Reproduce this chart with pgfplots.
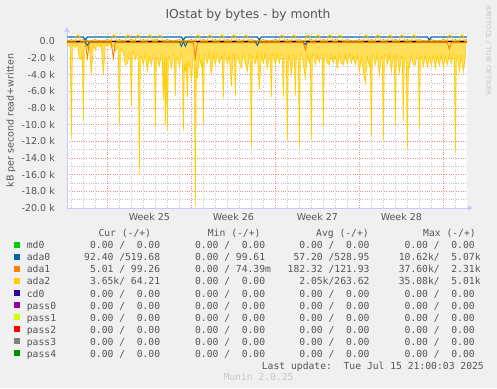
\documentclass[border=0pt]{standalone}
\usepackage{fontspec}
\setmainfont{DejaVu Sans}
\setmonofont{DejaVu Sans Mono}
\usepackage{pgfplots}
\pgfplotsset{compat=1.18}
\usetikzlibrary{arrows.meta}
\definecolor{bg}{HTML}{F0F0F0}
\definecolor{txt}{HTML}{555555}
\definecolor{axisc}{HTML}{C8C8FF}
\definecolor{mgrid}{HTML}{E69090}
\definecolor{ngrid}{HTML}{C8C8C8}
\definecolor{cmdz}{HTML}{00CC00}
\definecolor{cadaz}{HTML}{0066B3}
\definecolor{cadao}{HTML}{FF8000}
\definecolor{cadat}{HTML}{FFCC00}
\definecolor{ccdz}{HTML}{330099}
\definecolor{cpz}{HTML}{990099}
\definecolor{cpo}{HTML}{CCFF00}
\definecolor{cpt}{HTML}{FF0000}
\definecolor{cpth}{HTML}{808080}
\definecolor{cpf}{HTML}{008F00}
\newcommand\legfont{\ttfamily\fontsize{9.7}{11}\selectfont}
\newcommand\lrow[7]{%
  \fill[#2] (14,{388-#1+1.3}) rectangle ++(5.7,5.7);
  \node[anchor=base west,inner sep=0pt,font=\legfont,text=txt] at (26.7,{388-#1}) {#3};
  \node[anchor=base west,inner sep=0pt,font=\legfont,text=txt] at (78.2,{388-#1}) {#4};
  \node[anchor=base west,inner sep=0pt,font=\legfont,text=txt] at (183.2,{388-#1}) {#5};
  \node[anchor=base west,inner sep=0pt,font=\legfont,text=txt] at (287.5,{388-#1}) {#6};
  \node[anchor=base west,inner sep=0pt,font=\legfont,text=txt] at (392.8,{388-#1}) {#7};
}
\begin{document}
\begin{tikzpicture}[x=1pt,y=1pt]
\path[use as bounding box, fill=bg] (0,0) rectangle (497,388);
\begin{axis}[
  at={(67pt,180pt)}, anchor=south west,
  scale only axis, width=400pt, height=175pt,
  xmin=-80.67, xmax=719.33, ymin=-20000, ymax=1000,
  axis background/.style={fill=white},
  axis x line*=bottom, axis y line*=left,
  axis line style={color=axisc, line width=0.8pt, -{Triangle[length=5pt,width=5pt]}, shorten >=-6pt},
  major tick length=0pt, minor tick length=0pt,
  tick style={draw=none},
  xtick={0,168,336,504,672}, xticklabels={,,,,},
  minor xtick={-72,-48,-24,24,48,72,96,120,144,192,216,240,264,288,312,360,384,408,432,456,480,528,552,576,600,624,648,696},
  extra x ticks={84,252,420,588},
  extra x tick labels={Week 25,Week 26,Week 27,Week 28},
  extra x tick style={grid=none, xticklabel style={anchor=north, inner sep=0pt, yshift=-5pt}},
  ytick={-20000,-18000,-16000,-14000,-12000,-10000,-8000,-6000,-4000,-2000,0},
  yticklabels={-20.0 k,-18.0 k,-16.0 k,-14.0 k,-12.0 k,-10.0 k,-8.0 k,-6.0 k,-4.0 k,-2.0 k,0.0},
  minor ytick={-19000,-17000,-15000,-13000,-11000,-9000,-7000,-5000,-3000,-1000,1000},
  yticklabel style={anchor=east, inner sep=0pt, xshift=-12pt},
  ticklabel style={font=\fontsize{9.5}{11}\selectfont, text=txt},
  scaled y ticks=false,
  grid=both,
  major grid style={color=mgrid, line width=0.6pt, dash pattern=on 0.8pt off 1.6pt},
  minor grid style={color=ngrid, line width=0.6pt, dash pattern=on 0.8pt off 1.6pt},
  clip=true,
]
% all-zero series
\addplot[cmdz, line width=0.9pt] coordinates {(-80,0) (719,0)};
\addplot[ccdz, line width=0.9pt] coordinates {(-80,0) (719,0)};
\addplot[cpz, line width=0.9pt] coordinates {(-80,0) (719,0)};
\addplot[cpo, line width=0.9pt] coordinates {(-80,0) (719,0)};
\addplot[cpt, line width=0.9pt] coordinates {(-80,0) (719,0)};
\addplot[cpth, line width=0.9pt] coordinates {(-80,0) (719,0)};
\addplot[cpf, line width=0.9pt] coordinates {(-80,0) (719,0)};
% ada2 read (negative)
\addplot[draw=cadat, fill=cadat!65, line width=0.7pt] coordinates {
(-80,-300) (-76,-600) (-74,-500) (-72,-11600) (-70,-500) (-68,-400) (-64,-800) (-60,-300)
(-56,-2000) (-52,-2200) (-50,-1000) (-48,-9500) (-46,-600) (-44,-500) (-40,-900) (-36,-300)
(-32,-4000) (-28,-500) (-24,-1000) (-20,-300) (-16,-700) (-12,-400) (-8,-4000) (-4,-300)
(0,-600) (4,-200) (8,-800) (12,-400) (16,-1200) (20,-700) (22,-900) (24,-10100) (26,-1000)
(28,-1000) (32,-1400) (36,-2800) (40,-2700) (44,-1500) (46,-1400) (48,-7800) (50,-1300)
(52,-1200) (56,-2200) (60,-1500) (62,-1600) (64,-16000) (66,-1800) (68,-1800) (72,-2800)
(76,-1500) (80,-3500) (84,-1800) (88,-2800) (92,-1600) (94,-1800) (96,-10300) (98,-2000)
(100,-2000) (104,-3000) (108,-1600) (110,-1800) (112,-7000) (114,-2000) (116,-10000)
(118,-2000) (120,-10700) (122,-1800) (124,-1800) (128,-3200) (132,-1500) (134,-1800)
(136,-6600) (138,-2000) (140,-2000) (144,-3000) (148,-1500) (150,-2000) (152,-10800)
(154,-3000) (156,-3500) (158,-2500) (160,-6700) (162,-2500) (164,-2500) (168,-4600)
(172,-2000) (174,-2000) (176,-19800) (178,-3000) (180,-4400) (184,-1800) (188,-3000)
(190,-2000) (192,-10000) (194,-1600) (196,-1600) (200,-2600) (204,-1400) (208,-4000)
(212,-1600) (216,-2800) (220,-1500) (224,-2600) (228,-1800) (230,-2000) (232,-6800)
(234,-1500) (236,-1500) (240,-2700) (244,-1700) (248,-5400) (252,-1500) (254,-1600)
(256,-6600) (258,-1600) (260,-1600) (264,-2600) (268,-3200) (272,-1500) (276,-2500)
(280,-3600) (284,-1600) (286,-1800) (288,-12700) (290,-1800) (292,-1800) (296,-2700)
(300,-1500) (304,-5800) (308,-1600) (312,-2600) (316,-1500) (320,-3200) (324,-1700)
(326,-1700) (328,-6700) (330,-1500) (332,-1500) (336,-2800) (340,-1600) (344,-2600)
(348,-1500) (350,-1800) (352,-6700) (354,-1800) (356,-1800) (358,-1800) (360,-12000)
(362,-1700) (364,-1700) (368,-4000) (372,-1600) (374,-1800) (376,-6600) (378,-1800)
(380,-1800) (382,-1800) (384,-12700) (386,-1500) (388,-1500) (392,-2700) (396,-4400)
(400,-1600) (404,-2600) (406,-2000) (408,-11800) (410,-1500) (412,-1500) (416,-2800)
(420,-1600) (424,-2500) (428,-1500) (430,-1600) (432,-10300) (434,-1600) (436,-1600)
(440,-2600) (444,-2800) (448,-1500) (452,-2600) (456,-1700) (460,-3200) (464,-1500)
(468,-2600) (472,-2800) (476,-1600) (480,-2700) (484,-1500) (488,-2600) (492,-1700)
(496,-2800) (500,-1600) (504,-3600) (508,-2000) (512,-3600) (516,-5000) (520,-1800)
(524,-3000) (526,-2000) (528,-11500) (530,-1600) (532,-1600) (536,-2800) (540,-1500)
(544,-4000) (548,-1800) (550,-1800) (552,-11900) (554,-1600) (556,-1600) (560,-2800)
(564,-1500) (568,-3600) (572,-1800) (574,-1800) (576,-10200) (578,-1600) (580,-1600)
(584,-3800) (588,-1700) (590,-2000) (592,-9500) (594,-2000) (596,-2000) (598,-2500)
(600,-13000) (602,-3000) (604,-3200) (608,-1600) (612,-2800) (616,-2800) (620,-1500)
(622,-1600) (624,-10400) (626,-1800) (628,-1800) (632,-3000) (636,-1600) (640,-3100)
(644,-1800) (648,-2900) (652,-1600) (656,-3200) (660,-1700) (664,-2900) (668,-1600)
(672,-3100) (676,-1800) (680,-2800) (684,-1600) (688,-2700) (692,-1500) (694,-1600)
(696,-13400) (698,-1700) (700,-1700) (704,-3600) (708,-1800) (712,-3600) (716,-2000)
} \closedcycle;
% ada1 read
\addplot[cadao, line width=0.9pt] coordinates {
(-80,-150) (-44,-150) (-40,-2000) (-36,-150) (8,-150) (12,-2000) (16,-150)
(172,-150) (176,-2000) (180,-150) (392,-150) (396,-1000) (400,-150)
(680,-150) (684,-900) (688,-150) (719,-150)};
% ada0 read
\addplot[cadaz, line width=0.9pt] coordinates {
(-80,-50) (-44,-50) (-40,-500) (-36,-50) (144,-50) (148,-600) (152,-50) (156,-600) (160,-50)
(296,-50) (300,-500) (304,-50) (392,-50) (396,-400) (400,-50) (719,-50)};
% ada1 written
\addplot[cadao, line width=0.9pt] coordinates {
(-80,40) (-72,180) (-60,40) (-48,180) (-36,40) (-24,180) (-12,40) (0,180) (12,40) (24,180)
(36,40) (48,180) (60,40) (72,180) (84,40) (96,180) (108,40) (120,180) (132,40) (144,180)
(156,40) (168,180) (180,40) (192,180) (204,40) (216,180) (228,40) (240,180) (252,40)
(264,180) (276,40) (288,180) (300,40) (312,180) (324,40) (336,180) (348,40) (360,180)
(372,40) (384,180) (396,40) (408,180) (420,40) (432,180) (444,40) (456,180) (468,40)
(480,180) (492,40) (504,180) (516,40) (528,180) (540,40) (552,180) (564,40) (576,180)
(588,40) (600,180) (612,40) (624,180) (636,40) (648,180) (660,40) (672,180) (684,40)
(696,180) (708,40) (719,180)};
% zero rule
\addplot[black, line width=1.4pt] coordinates {(-80.67,0) (719.33,0)};
% ada0 written
\addplot[cadaz, line width=1.2pt] coordinates {
(-80,530) (-48,530) (-44,150) (-40,530) (148,530) (152,150) (156,530) (300,530) (304,150)
(308,530) (640,530) (644,150) (648,530) (719,530)};
% ada2 written
\addplot[cadat, line width=1pt] coordinates {
(-80,30)
(-64,30) (-62,700) (-56,700) (-54,30)
(8,30) (10,700) (16,700) (18,30)
(36,30) (38,700) (44,700) (46,30)
(56,30) (58,700) (64,700) (66,30)
(80,30) (82,700) (88,700) (90,30)
(100,30) (102,700) (108,700) (110,30)
(176,30) (178,700) (184,700) (186,30)
(200,30) (202,700) (208,700) (210,30)
(224,30) (226,700) (232,700) (234,30)
(248,30) (250,700) (256,700) (258,30)
(272,30) (274,700) (280,700) (282,30)
(344,30) (346,700) (352,700) (354,30)
(368,30) (370,700) (376,700) (378,30)
(396,30) (398,700) (404,700) (406,30)
(416,30) (418,700) (424,700) (426,30)
(440,30) (442,700) (448,700) (450,30)
(460,30) (462,700) (468,700) (470,30)
(512,30) (514,700) (520,700) (522,30)
(536,30) (538,700) (544,700) (546,30)
(560,30) (562,700) (568,700) (570,30)
(584,30) (586,700) (592,700) (594,30)
(608,30) (610,700) (616,700) (618,30)
(680,30) (682,700) (688,700) (690,30)
(704,30) (706,700) (712,700) (714,30)
(719,30)};
\end{axis}
% title
\node[anchor=base, inner sep=0pt, font=\fontsize{12.3}{14}\selectfont, text=txt] at (248,369) {IOstat by bytes - by month};
% y label
\node[rotate=90, inner sep=0pt, font=\fontsize{9.5}{11}\selectfont, text=txt] at (11,267.5) {kB per second read+written};
% rrdtool
\node[rotate=-90, anchor=west, inner sep=0pt, font=\fontsize{7}{8}\selectfont, text=ngrid] at (488.5,383) {RRDTOOL / TOBI OETIKER};
% legend header
\node[anchor=base west,inner sep=0pt,font=\legfont,text=txt] at (98.3,151) {Cur (-/+)};
\node[anchor=base west,inner sep=0pt,font=\legfont,text=txt] at (207.7,151) {Min (-/+)};
\node[anchor=base west,inner sep=0pt,font=\legfont,text=txt] at (316,151) {Avg (-/+)};
\node[anchor=base west,inner sep=0pt,font=\legfont,text=txt] at (423,151) {Max (-/+)};
\lrow{249}{cmdz}{md0}{~~0.00~/~~0.00}{~~0.00~/~~0.00}{~~0.00~/~~0.00}{~~0.00~/~~0.00}
\lrow{261}{cadaz}{ada0}{~92.40~/519.68}{~~0.00~/~99.61}{~57.20~/528.95}{~10.62k/~~5.07k}
\lrow{273}{cadao}{ada1}{~~5.01~/~99.26}{~~0.00~/~74.39m}{182.32~/121.93}{~37.60k/~~2.31k}
\lrow{285}{cadat}{ada2}{~~3.65k/~64.21}{~~0.00~/~~0.00}{~~2.05k/263.62}{~35.08k/~~5.01k}
\lrow{297}{ccdz}{cd0}{~~0.00~/~~0.00}{~~0.00~/~~0.00}{~~0.00~/~~0.00}{~~0.00~/~~0.00}
\lrow{309}{cpz}{pass0}{~~0.00~/~~0.00}{~~0.00~/~~0.00}{~~0.00~/~~0.00}{~~0.00~/~~0.00}
\lrow{321}{cpo}{pass1}{~~0.00~/~~0.00}{~~0.00~/~~0.00}{~~0.00~/~~0.00}{~~0.00~/~~0.00}
\lrow{333}{cpt}{pass2}{~~0.00~/~~0.00}{~~0.00~/~~0.00}{~~0.00~/~~0.00}{~~0.00~/~~0.00}
\lrow{345}{cpth}{pass3}{~~0.00~/~~0.00}{~~0.00~/~~0.00}{~~0.00~/~~0.00}{~~0.00~/~~0.00}
\lrow{357}{cpf}{pass4}{~~0.00~/~~0.00}{~~0.00~/~~0.00}{~~0.00~/~~0.00}{~~0.00~/~~0.00}
\node[anchor=base west,inner sep=0pt,font=\legfont,text=txt] at (261.7,19) {Last update:~~Tue Jul 15 21:00:03 2025};
\node[anchor=base west,inner sep=0pt,font=\legfont,text=ngrid] at (223.3,8) {Munin 2.0.25};
\end{tikzpicture}
\end{document}
